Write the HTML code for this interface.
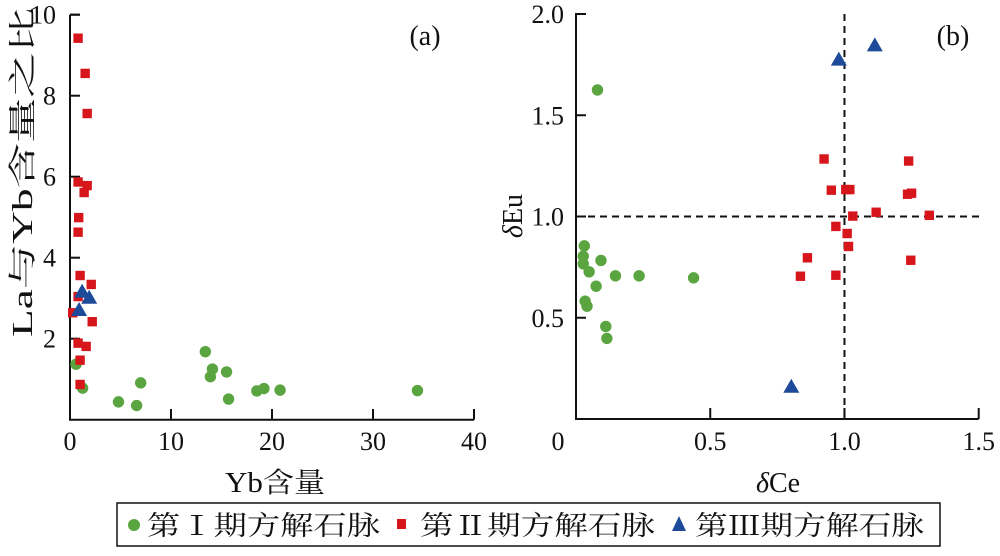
<!DOCTYPE html>
<html><head><meta charset="utf-8"><style>
body{margin:0;background:#fff}
svg text{font-family:"Liberation Serif","Noto Serif CJK SC",serif;fill:#111}
</style></head><body>
<svg id="chart" width="1000" height="551" viewBox="0 0 1000 551" xmlns="http://www.w3.org/2000/svg">
<g id="pa"></g>
<g id="pb"></g>
<g id="legend">
<rect x="117" y="503" width="823" height="43" fill="none" stroke="#111" stroke-width="1.5"/>
<circle cx="134" cy="525" r="6" fill="#5aa540"/>
<text x="147" y="535" font-size="27" textLength="233" lengthAdjust="spacingAndGlyphs">第Ⅰ期方解石脉</text>
<rect x="397" y="519" width="9" height="10" fill="#d7161c"/>
<text x="420" y="535" font-size="27" textLength="235" lengthAdjust="spacingAndGlyphs">第Ⅱ期方解石脉</text>
<polygon points="679,516 672,531 686,531" fill="#1e4a9a"/>
<text x="695" y="535" font-size="27" textLength="229" lengthAdjust="spacingAndGlyphs">第Ⅲ期方解石脉</text>
</g>
</svg>
<script>
const NS="http://www.w3.org/2000/svg";
// Panel A data
const aStage1X=[0.6,1.25,4.8,6.6,7.0,13.4,14.1,13.9,15.5,15.7,18.5,19.2,20.8,34.4];
const aStage1Y=[1.37,0.78,0.44,0.35,0.91,1.68,1.25,1.06,1.18,0.51,0.71,0.77,0.73,0.72];
const aStage2X=[0.8,1.5,1.7,0.8,1.7,1.4,0.86,0.8,1.0,2.1,0.8,0.27,2.2,0.8,1.6,1.0,1.0];
const aStage2Y=[9.42,8.55,7.56,5.87,5.78,5.61,4.99,4.63,3.56,3.34,3.04,2.64,2.42,1.89,1.81,1.47,0.87];
const aStage3X=[1.2,1.9,0.9];
const aStage3Y=[3.16,3.01,2.71];
const aXTicks=[0,10,20,30,40];
const aYTicks=[2,4,6,8,10];
// Panel B data
const bStage1X=[0.080,0.031,0.027,0.027,0.093,0.049,0.147,0.235,0.438,0.075,0.034,0.041,0.111,0.115];
const bStage1Y=[1.625,0.855,0.804,0.766,0.783,0.727,0.707,0.707,0.697,0.656,0.582,0.557,0.457,0.398];
const bStage2X=[0.924,0.951,1.005,1.02,1.031,1.118,1.239,1.235,1.25,1.316,0.968,1.010,1.015,0.862,1.247,0.836,0.968];
const bStage2Y=[1.284,1.130,1.133,1.133,1.002,1.021,1.274,1.11,1.115,1.006,0.951,0.916,0.852,0.796,0.784,0.705,0.710];
const bStage3X=[0.979,1.113,0.802];
const bStage3Y=[1.775,1.845,0.159];
const bXTicks=[0.5,1.0,1.5];
const bXLabels=["0.5","1.0","1.5"];
const bYTicks=[0.5,1.0,1.5,2.0];
const bYLabels=["0.5","1.0","1.5","2.0"];

function mk(parent,tag,attrs,name,txt){const e=document.createElementNS(NS,tag);for(const k in attrs)e.setAttribute(k,attrs[k]);


if(txt!==undefined)e.textContent=txt;parent.appendChild(e);return e;}
function lin(d0,d1,r0,r1){return v=>r0+(v-d0)/(d1-d0)*(r1-r0);}
function marks(g,xs,ys,sx,sy,kind,name){
 for(let i=0;i<xs.length;i++){const x=sx(xs[i]),y=sy(ys[i]);
  if(kind==='c')mk(g,'circle',{cx:x,cy:y,r:5.7,fill:'#5aa540'},name);
  else if(kind==='s')mk(g,'rect',{x:x-4.7,y:y-4.7,width:9.4,height:9.4,fill:'#d7161c'},name);
  else mk(g,'polygon',{points:`${x},${y-8} ${x-8},${y+6} ${x+8},${y+6}`,fill:'#1e4a9a'},name);}
}
const TF=26;
// Panel A
(function(){const g=document.getElementById('pa');
 const sx=lin(0,40,70,474), sy=lin(0,10,419.7,14.7);
 mk(g,'path',{d:'M70,14.7 V419.7 H474',fill:'none',stroke:'#111','stroke-width':2},'axes-a');
 mk(g,'line',{x1:70,y1:14.7,x2:80,y2:14.7,stroke:'#111','stroke-width':2},'y-tick-a');
 aXTicks.forEach(t=>{const x=sx(t);if(t>0)mk(g,'line',{x1:x,y1:419.7,x2:x,y2:409,stroke:'#111','stroke-width':2},'x-tick-a');
  mk(g,'text',{x:x,y:450,'font-size':TF,'text-anchor':'middle'},'x-tick-label-a',String(t));});
 aYTicks.forEach(t=>{const y=sy(t);mk(g,'line',{x1:70,y1:y,x2:80,y2:y,stroke:'#111','stroke-width':2},'y-tick-a');
  mk(g,'text',{x:56,y:y+9,'font-size':TF,'text-anchor':'end'},'y-tick-label-a',String(t));});
 mk(g,'text',{x:425,y:45,'font-size':28,'text-anchor':'middle'},'panel-label-a','(a)');
 mk(g,'text',{x:225,y:492,'font-size':28,textLength:100,lengthAdjust:'spacingAndGlyphs'},'x-axis-title-a','Yb含量');
 mk(g,'text',{x:0,y:0,'font-size':28,'text-anchor':'middle',textLength:330,lengthAdjust:'spacingAndGlyphs',transform:'translate(32,172) rotate(-90)'},'y-axis-title-a','La与Yb含量之比');
 marks(g,aStage1X,aStage1Y,sx,sy,'c','point-stage1-a');
 marks(g,aStage2X,aStage2Y,sx,sy,'s','point-stage2-a');
 marks(g,aStage3X,aStage3Y,sx,sy,'t','point-stage3-a');
})();
// Panel B
(function(){const g=document.getElementById('pb');
 const sx=lin(0,1.5,576,978.7), sy=lin(0,2,419,14);
 mk(g,'path',{d:'M586,14 H576 V419 H978.7',fill:'none',stroke:'#111','stroke-width':2},'axes-b');
 bXTicks.forEach((t,i)=>{const x=sx(t);mk(g,'line',{x1:x,y1:419,x2:x,y2:408,stroke:'#111','stroke-width':2},'x-tick-b');
  mk(g,'text',{x:x,y:450,'font-size':TF,'text-anchor':'middle'},'x-tick-label-b',bXLabels[i]);});
 mk(g,'text',{x:558,y:450,'font-size':TF,'text-anchor':'middle'},'x-tick-label-b','0');
 bYTicks.forEach((t,i)=>{const y=sy(t);mk(g,'line',{x1:576,y1:y,x2:586,y2:y,stroke:'#111','stroke-width':2},'y-tick-b');
  mk(g,'text',{x:564,y:y+9,'font-size':TF,'text-anchor':'end'},'y-tick-label-b',bYLabels[i]);});
 mk(g,'line',{x1:sx(1),y1:14,x2:sx(1),y2:419,stroke:'#111','stroke-width':2,'stroke-dasharray':'7,5'},'reference-line-ce');
 mk(g,'line',{x1:576,y1:sy(1),x2:980,y2:sy(1),stroke:'#111','stroke-width':2,'stroke-dasharray':'7,5'},'reference-line-eu');
 mk(g,'text',{x:953,y:45,'font-size':28,'text-anchor':'middle'},'panel-label-b','(b)');
 const xt=mk(g,'text',{x:778,y:492,'font-size':28,'text-anchor':'middle'},'x-axis-title-b','');
 const d1=document.createElementNS(NS,'tspan');d1.setAttribute('font-style','italic');d1.textContent='δ';xt.appendChild(d1);
 xt.appendChild(document.createTextNode('Ce'));
 const yt=mk(g,'text',{x:0,y:0,'font-size':28,'text-anchor':'middle',transform:'translate(522,216) rotate(-90)'},'y-axis-title-b','');
 const d2=document.createElementNS(NS,'tspan');d2.setAttribute('font-style','italic');d2.textContent='δ';yt.appendChild(d2);
 yt.appendChild(document.createTextNode('Eu'));
 marks(g,bStage1X,bStage1Y,sx,sy,'c','point-stage1-b');
 marks(g,bStage2X,bStage2Y,sx,sy,'s','point-stage2-b');
 marks(g,bStage3X,bStage3Y,sx,sy,'t','point-stage3-b');
})();
</script>
</body></html>
